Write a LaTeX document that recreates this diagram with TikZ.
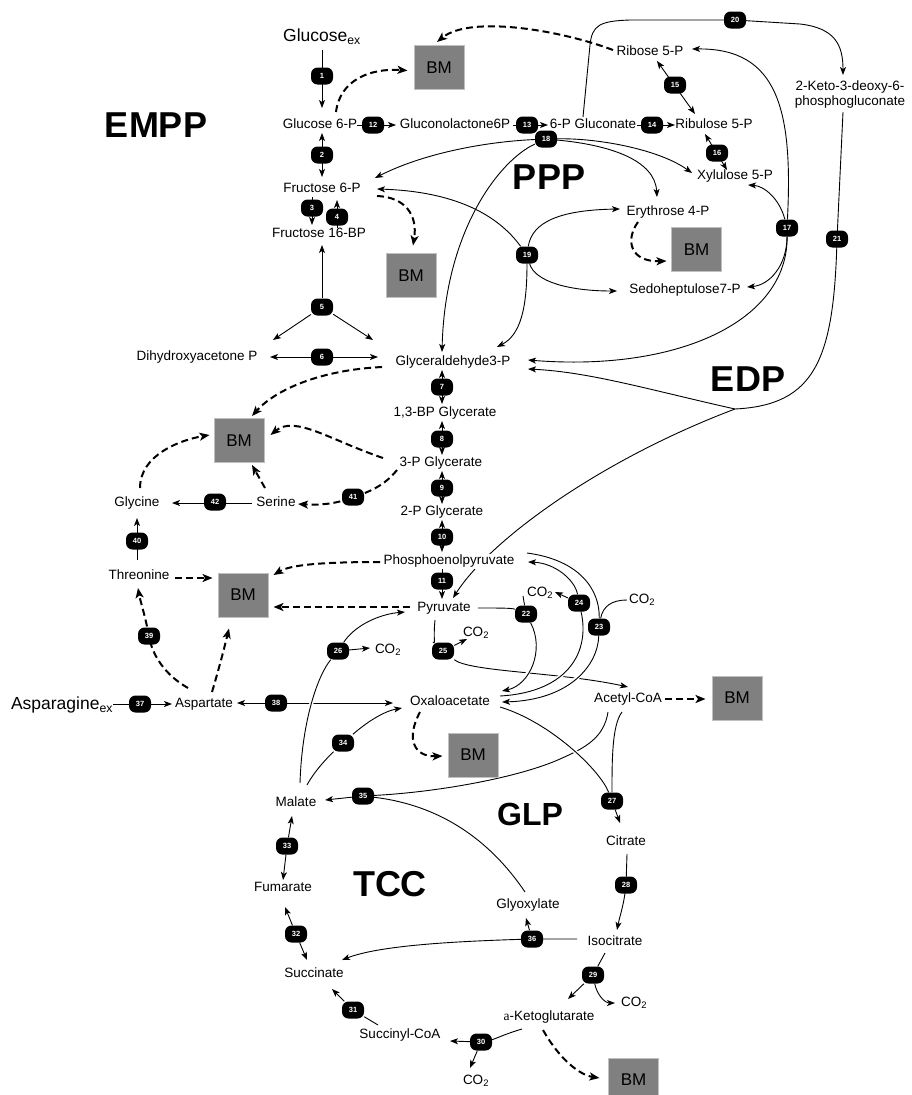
\documentclass[tikz,border=0pt]{standalone}
\usepackage{fontspec}
\setmainfont{Liberation Sans}
\newfontfamily\serifa{Liberation Serif}
\usetikzlibrary{arrows.meta}
\definecolor{bmgray}{RGB}{128,128,128}
\definecolor{bmedge}{RGB}{192,192,192}
\pgfdeclarelayer{bg}
\pgfsetlayers{bg,main}
\tikzset{
  met/.style={font=\fontsize{13.5}{15}\selectfont,inner sep=1.5pt,text height=9.5pt,text depth=2.5pt},
  met2/.style={font=\fontsize{13.5}{15}\selectfont,inner sep=1.5pt,align=center},
  ext/.style={font=\fontsize{17.5}{20}\selectfont,inner sep=1.5pt},
  enz/.style={fill=black,text=white,rounded corners=6.5pt,minimum width=22pt,minimum height=17pt,inner sep=0pt,font=\fontsize{7.5}{8}\selectfont\bfseries},
  bm/.style={fill=bmgray,draw=bmedge,line width=1pt,minimum width=50pt,minimum height=44pt,inner sep=0pt,font=\fontsize{17}{20}\selectfont},
  pathway/.style={font=\fontsize{36}{40}\selectfont\bfseries,inner sep=0pt},
  link/.style={line width=0.9pt},
  flux/.style={link,->},
  rev/.style={link,<->},
  drain/.style={line width=2pt,dash pattern=on 7pt off 4pt,-{Stealth[length=10pt,width=8pt,inset=2.5pt]}},
  bridge/.style={preaction={draw=white,line width=4pt,solid,-}},
}
\begin{document}
\begin{tikzpicture}[x=1pt,y=-1pt,>={Stealth[length=8pt,width=6pt,inset=2pt]}]
\useasboundingbox (0,0) rectangle (911,1095);
% ---- pathway labels ----
\node[pathway] (lempp) at (156,125) {EMPP};
\node[pathway] (lppp) at (549,177) {PPP};
\node[pathway] (ledp) at (748,379) {EDP};
\node[pathway,font=\fontsize{32}{36}\selectfont\bfseries] (lglp) at (530,814) {GLP};
\node[pathway] (ltcc) at (390,884) {TCC};
% ---- metabolites ----
\node[ext] (glcex) at (322,37) {Glucose\textsubscript{ex}};
\node[met] (g6p) at (320,125) {Glucose 6-P};
\node[met] (glcl) at (455,125) {Gluconolactone6P};
\node[met] (pgl) at (593,125) {6-P Gluconate};
\node[met] (ru5p) at (714,125) {Ribulose 5-P};
\node[met] (r5p) at (650,52) {Ribose 5-P};
\node[met] (x5p) at (735,176) {Xylulose 5-P};
\node[met] (e4p) at (668,212) {Erythrose 4-P};
\node[met] (s7p) at (685,290) {Sedoheptulose7-P};
\node[met2] (kdpg) at (850,95) {2-Keto-3-deoxy-6-\\phosphogluconate};
\node[met] (f6p) at (322,189) {Fructose 6-P};
\node[met] (fbp) at (319,234) {Fructose 16-BP};
\node[met] (dhap) at (197,357) {Dihydroxyacetone P};
\node[met] (g3p) at (453,362) {Glyceraldehyde3-P};
\node[met] (bpg) at (445,413) {1,3-BP Glycerate};
\node[met] (pg3) at (441,463) {3-P Glycerate};
\node[met] (pg2) at (442,512) {2-P Glycerate};
\node[met,fill=white] (pep) at (449,561) {Phosphoenolpyruvate};
\node[met] (pyr) at (444,608) {Pyruvate};
\node[met] (oaa) at (450,702) {Oxaloacetate};
\node[met] (accoa) at (628,699) {Acetyl-CoA};
\node[met] (cit) at (626,842) {Citrate};
\node[met] (icit) at (615,942) {Isocitrate};
\node[met] (glx) at (528,905) {Glyoxylate};
\node[met] (akg) at (549,1017) {{\serifa a}-Ketoglutarate};
\node[met] (succoa) at (400,1035) {Succinyl-CoA};
\node[met] (succ) at (314,974) {Succinate};
\node[met] (fum) at (283,888) {Fumarate};
\node[met] (mal) at (296,803) {Malate};
\node[ext] (asn) at (62,705) {Asparagine\textsubscript{ex}};
\node[met] (asp) at (204,704) {Aspartate};
\node[met] (thr) at (139,576) {Threonine};
\node[met] (gly) at (137,503) {Glycine};
\node[met] (ser) at (276,503) {Serine};
\node[met] (co2a) at (540,593) {CO\textsubscript{2}};
\node[met] (co2b) at (642,600) {CO\textsubscript{2}};
\node[met] (co2c) at (476,633) {CO\textsubscript{2}};
\node[met] (co2d) at (388,650) {CO\textsubscript{2}};
\node[met] (co2e) at (634,1003) {CO\textsubscript{2}};
\node[met] (co2f) at (476,1081) {CO\textsubscript{2}};
% ---- biomass ----
\node[bm] (bm1) at (439,67.5) {BM};
\node[bm] (bm2) at (411,275.5) {BM};
\node[bm] (bm3) at (696.5,249.5) {BM};
\node[bm] (bm4) at (239,440.5) {BM};
\node[bm] (bm5) at (243,595) {BM};
\node[bm] (bm6) at (473,755) {BM};
\node[bm] (bm7) at (737,698) {BM};
\node[bm] (bm8) at (633.5,1080) {BM};
% ---- enzymes ----
\foreach \n/\x/\y in {1/322/76,2/322/155,3/312/208,4/337/217,5/322/307,6/322/357,7/442/387,
  8/442/439,9/442/488,10/442/537,11/442/581,12/373/125,13/527/125,14/652/125,15/675/85,
  16/717/153,17/787/228,18/546/139,19/527/255,20/735/20,21/837/239,22/526/614,23/599/627,
  24/579/603,25/443/651,26/338/651,27/612/801,28/626/885,29/593/975,30/481/1042,31/353/1010,
  32/296/934,33/287/846,34/343/743,35/363/796,36/532/939,37/140/704,38/276/703,39/149/636,
  40/137/541,41/353/497,42/215/502}{
  \node[enz] (e\n) at (\x,\y) {\n};}
\coordinate (edpj) at (735,409);
\begin{pgfonlayer}{bg}
% glycolysis
\draw[flux] ([shift={(0,13)}]glcex.center) -- ([shift={(2,-17)}]g6p.center);
\draw[rev] ([shift={(2,8)}]g6p.center) -- ([shift={(0,-12)}]f6p.center);
\draw[flux] ([shift={(-10,8)}]f6p.center) -- ([shift={(-7,-9)}]fbp.center);
\draw[flux] ([shift={(18,-6)}]fbp.center) -- ([shift={(15,11)}]f6p.center);
\draw[flux] (e5) -- ([shift={(3,11)}]fbp.center);
\draw[flux] (e5) -- ([shift={(76,-17)}]dhap.center);
\draw[flux] (e5) -- ([shift={(-80,-22)}]g3p.center);
\draw[rev] ([shift={(73,0)}]dhap.center) -- ([shift={(-75,-5)}]g3p.center);
\draw[rev] ([shift={(-11,8)}]g3p.center) -- ([shift={(-3,-9)}]bpg.center);
\draw[rev] ([shift={(-3,8)}]bpg.center) -- ([shift={(1,-8)}]pg3.center);
\draw[rev] ([shift={(1,8)}]pg3.center) -- ([shift={(0,-8)}]pg2.center);
\draw[rev] ([shift={(0,8)}]pg2.center) -- ([shift={(-7,-9)}]pep.center);
\draw[flux] ([shift={(-7,8)}]pep.center) -- ([shift={(-2,-9)}]pyr.center);
% pentose phosphate
\draw[flux] ([shift={(37,0)}]g6p.center) -- ([shift={(-59,0)}]glcl.center);
\draw[flux] ([shift={(58,0)}]glcl.center) -- ([shift={(-45,0)}]pgl.center);
\draw[flux] ([shift={(44,0)}]pgl.center) -- ([shift={(-39,0)}]ru5p.center);
\draw[rev] ([shift={(7,9)}]r5p.center) -- ([shift={(-19,-11)}]ru5p.center);
\draw[rev] ([shift={(-9,9)}]ru5p.center) -- ([shift={(-8,-6)}]x5p.center);
\draw[flux] (e17) .. controls (793,110) and (778,48) .. ([shift={(42,-3)}]r5p.center);
\draw[flux] (e17) .. controls (780,200) and (765,186) .. ([shift={(13,9)}]x5p.center);
\draw[flux] (e17) .. controls (787,265) and (770,285) .. ([shift={(62,-3)}]s7p.center);
\draw[flux] (e17) .. controls (788,320) and (680,372) .. ([shift={(75,-2)}]g3p.center);
\draw[flux] (e18) .. controls (480,142) and (420,155) .. ([shift={(53,-11)}]f6p.center);
\draw[flux] (e18) .. controls (500,160) and (445,230) .. ([shift={(-11,-10)}]g3p.center);
\draw[flux] (e18) .. controls (600,138) and (660,150) .. ([shift={(-43,-3)}]x5p.center);
\draw[flux] (e18) .. controls (610,145) and (655,160) .. ([shift={(-11,-15)}]e4p.center);
\draw[flux] (e19) .. controls (505,225) and (470,192) .. ([shift={(55,0)}]f6p.center);
\draw[flux] (e19) .. controls (532,222) and (560,210) .. ([shift={(-48,-3)}]e4p.center);
\draw[flux] (e19) .. controls (535,282) and (570,291) .. ([shift={(-68,1)}]s7p.center);
\draw[flux] (e19) .. controls (527,310) and (520,335) .. ([shift={(44,-15)}]g3p.center);
% Entner-Doudoroff
\draw[flux] ([shift={(-10,-8)}]pgl.center) -- (590,45) .. controls (592,25) and (600,21) .. (630,20)
  -- (e20.center) -- (800,24) .. controls (835,28) and (843,45) .. ([shift={(-7,-20)}]kdpg.center);
\draw[link] ([shift={(-7,17)}]kdpg.center) -- (e21.center) .. controls (834,360) and (815,405) .. (edpj);
\draw[flux] (edpj) .. controls (650,390) and (590,372) .. ([shift={(75,7)}]g3p.center);
\draw[flux] (edpj) .. controls (600,460) and (490,540) .. ([shift={(9,-10)}]pyr.center);
% pyruvate node
\draw[link] ([shift={(-9,12)}]pyr.center) .. controls (433,640) and (436,645) .. (e25);
\draw[flux] (e25) -- ([shift={(-9,6)}]co2c.center);
\draw[flux] (e25) .. controls (470,672) and (560,672) .. ([shift={(0,-12)}]accoa.center);
\draw[link] ([shift={(34,0)}]pyr.center) .. controls (500,608) and (512,608) .. (e22);
\draw[link] ([shift={(-17,3)}]co2a.center) -- (e22);
\draw[flux,bridge] (e22) .. controls (545,650) and (530,685) .. ([shift={(52,-11)}]oaa.center);
\draw[link,bridge] ([shift={(50,-6)}]oaa.center) .. controls (570,692) and (590,650) .. (e24);
\draw[flux] (e24) .. controls (575,580) and (555,563) .. ([shift={(79,1)}]pep.center);
\draw[flux] (e24) -- ([shift={(15,-1)}]co2a.center);
\draw[link] ([shift={(78,-8)}]pep.center) .. controls (580,560) and (600,590) .. (e23);
\draw[link] ([shift={(-15,0)}]co2b.center) .. controls (612,600) and (603,606) .. (e23);
\draw[flux,bridge] (e23) .. controls (598,665) and (570,700) .. ([shift={(52,0)}]oaa.center);
% aspartate and malate
\draw[flux] ([shift={(51,-1)}]asn.center) -- ([shift={(-32,0)}]asp.center);
\draw[flux] (e38) -- ([shift={(33,-1)}]asp.center);
\draw[flux] (e38) -- ([shift={(-57,1)}]oaa.center);
\draw[link,bridge] ([shift={(4,-20)}]mal.center) .. controls (302,720) and (318,675) .. (e26);
\draw[flux] (e26) .. controls (355,625) and (380,614) .. ([shift={(-39,4)}]pyr.center);
\draw[flux] (e26) -- ([shift={(-18,-2)}]co2d.center);
\draw[link] ([shift={(11,-18)}]mal.center) .. controls (315,770) and (330,755) .. (e34);
\draw[flux] (e34) .. controls (360,728) and (380,712) .. ([shift={(-48,6)}]oaa.center);
% glyoxylate shunt
\draw[link] ([shift={(-20,13)}]accoa.center) .. controls (604,738) and (585,748) .. (560,759)
  .. controls (520,777) and (440,792) .. (e35);
\draw[link] ([shift={(-3,-13)}]glx.center) .. controls (490,840) and (440,805) .. (e35);
\draw[flux] (e35) -- ([shift={(29,-3)}]mal.center);
% TCA cycle
\draw[link,bridge] ([shift={(50,5)}]oaa.center) .. controls (550,722) and (600,770) .. (e27);
\draw[link] ([shift={(-6,13)}]accoa.center) .. controls (612,725) and (612,760) .. (e27);
\draw[flux] (e27) -- ([shift={(-6,-19)}]cit.center);
\draw[flux] ([shift={(1,12)}]cit.center) -- (e28.center) .. controls (624,905) and (620,915) .. ([shift={(2,-12)}]icit.center);
\draw[flux] ([shift={(-38,-3)}]icit.center) -- (e36.center) .. controls (460,941) and (380,945) .. ([shift={(28,-14)}]succ.center);
\draw[flux] (e36) -- ([shift={(-2,13)}]glx.center);
\draw[link] ([shift={(-10,11)}]icit.center) -- (e29);
\draw[flux] (e29) -- ([shift={(19,-18)}]akg.center);
\draw[flux] (e29) .. controls (597,995) and (605,1003) .. ([shift={(-19,0)}]co2e.center);
\draw[link] ([shift={(-27,12)}]akg.center) .. controls (505,1034) and (495,1039) .. (e30);
\draw[flux] (e30) -- ([shift={(50,6)}]succoa.center);
\draw[flux] (e30) -- ([shift={(-6,-13)}]co2f.center);
\draw[link] ([shift={(-22,-10)}]succoa.center) -- (e31);
\draw[flux] (e31) -- ([shift={(18,15)}]succ.center);
\draw[flux] (e32) -- ([shift={(2,19)}]fum.center);
\draw[flux] (e32) -- ([shift={(-7,-14)}]succ.center);
\draw[flux] (e33) -- ([shift={(-4,13)}]mal.center);
\draw[flux] (e33) -- ([shift={(0,-8)}]fum.center);
% amino acids
\draw[flux] ([shift={(-2,-16)}]thr.center) -- ([shift={(0,15)}]gly.center);
\draw[flux] ([shift={(-24,0)}]ser.center) -- ([shift={(35,0)}]gly.center);
% ---- drains to biomass ----
\draw[drain] ([shift={(16,-13)}]g6p.center) .. controls (340,80) and (370,68) .. ([shift={(-6,3)}]bm1.west);
\draw[drain] ([shift={(-37,-2)}]r5p.center) .. controls (560,30) and (470,15) .. ([shift={(-2,-3)}]bm1.north);
\draw[drain] ([shift={(55,7)}]f6p.center) .. controls (405,197) and (418,215) .. ([shift={(2,-7.5)}]bm2.north);
\draw[drain] ([shift={(-30,10)}]e4p.center) .. controls (625,240) and (630,262) .. ([shift={(-4.5,11.5)}]bm3.west);
\draw[drain] ([shift={(-71,5)}]g3p.center) .. controls (320,370) and (275,390) .. ([shift={(13,-2)}]bm4.north);
\draw[drain] ([shift={(-58,-5)}]pg3.center) .. controls (330,440) and (295,415) .. ([shift={(6,-5.5)}]bm4.east);
\draw[drain] ([shift={(-44,7)}]pg3.center) .. controls (385,485) and (370,492) .. (e41.center)
  .. controls (335,505) and (315,505) .. ([shift={(22,1)}]ser.center);
\draw[drain] ([shift={(-11,-15)}]ser.center) -- ([shift={(13,2)}]bm4.south);
\draw[drain] ([shift={(3,-15)}]gly.center) .. controls (140,455) and (180,440) .. ([shift={(-4,-5.5)}]bm4.west);
\draw[drain] ([shift={(36,2)}]thr.center) -- ([shift={(-5,-17)}]bm5.west);
\draw[drain] ([shift={(-69,1)}]pep.center) .. controls (320,562) and (290,565) .. ([shift={(5,-20)}]bm5.east);
\draw[drain] ([shift={(-34,-1)}]pyr.center) -- ([shift={(5,12)}]bm5.east);
\draw[drain] ([shift={(-16,-16)}]asp.center) .. controls (165,675) and (152,655) .. (e39.center)
  .. controls (145,615) and (140,600) .. ([shift={(-1,12)}]thr.center);
\draw[drain] ([shift={(8,-12)}]asp.center) .. controls (220,665) and (225,645) .. ([shift={(-14,11)}]bm5.south);
\draw[drain] ([shift={(-30,10)}]oaa.center) .. controls (405,740) and (415,757) .. ([shift={(-5,1)}]bm6.west);
\draw[drain] ([shift={(37,0)}]accoa.center) -- ([shift={(-6,1)}]bm7.west);
\draw[drain] ([shift={(-6,13)}]akg.center) .. controls (560,1060) and (580,1075) .. ([shift={(-8.5,-2)}]bm8.west);
\end{pgfonlayer}
\end{tikzpicture}
\end{document}
